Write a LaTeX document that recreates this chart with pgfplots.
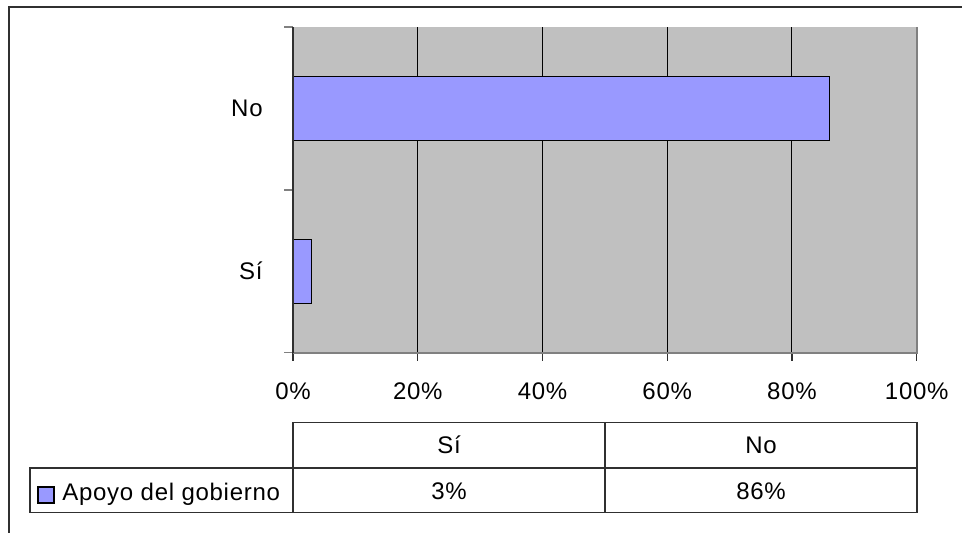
\documentclass[border=0pt]{standalone}
\usepackage{pgfplots}
\usepackage{pgfplotstable}
\pgfplotsset{compat=1.18}
\usepackage{fontspec}
\setmainfont[LetterSpace=3]{Liberation Sans}

\definecolor{barfill}{HTML}{9999FF}
\definecolor{plotbg}{HTML}{C0C0C0}
\definecolor{edge}{HTML}{808080}
\definecolor{rule}{HTML}{303030}

% Apoyo del gobierno: 0 = Sí, 1 = No (percent)
\pgfplotstableread{
pos value
0 3
1 86
}\apoyo

\pgfplotstablegetelem{0}{value}\of\apoyo \let\valsi\pgfplotsretval
\pgfplotstablegetelem{1}{value}\of\apoyo \let\valno\pgfplotsretval

\begin{document}
\begin{tikzpicture}[font=\fontsize{12}{14}\selectfont]
% page frame and drawing grid: 1 unit = 0.5pt, y downwards from the top
\begin{scope}[x=0.5pt,y=-0.5pt,yshift=266.5pt]
  \path[use as bounding box] (0,0) rectangle (962,533);
  \draw[line width=1pt, rule] (9,533) -- (9,7) -- (962,7);
\end{scope}

\begin{axis}[
  at={(146.5pt,90.15pt)}, anchor=south west,
  scale only axis, width=311.85pt, height=162.85pt,
  xbar, bar width=32pt,
  xmin=0, xmax=100, ymin=-0.5, ymax=1.5,
  axis background/.style={fill=plotbg},
  axis line style={draw=none},
  clip=false,
  tick align=outside,
  xtick pos=bottom, ytick pos=left,
  major tick length=4pt,
  xtick={0,20,...,100},
  xticklabel={\pgfmathprintnumber[assume math mode=true]{\tick}\%},
  xtick style={rule, line width=0.6pt},
  xticklabel style={anchor=center, inner sep=0pt, yshift=-15.5pt},
  xmajorgrids,
  major grid style={black, line width=0.5pt},
  ytick={0,1},
  yticklabels={Sí,No},
  ytick style={draw=none},
  yticklabel style={anchor=base east, inner sep=0pt, xshift=-11pt, yshift=-4.2pt},
  extra y ticks={-0.5,0.5,1.5},
  extra y tick labels={},
  extra y tick style={ytick style={draw=edge, line width=0.8pt}, major tick length=4.5pt},
]
\addplot[draw=black, line width=0.75pt, fill=barfill] table[x=value, y=pos] {\apoyo};
\draw[edge, line width=1pt] (rel axis cs:0,0) -- (rel axis cs:1,0) -- (rel axis cs:1,1);
\draw[rule, line width=0.6pt] (rel axis cs:0,0) -- (rel axis cs:0,1);
\end{axis}

% data table under the chart
\begin{scope}[x=0.5pt,y=-0.5pt,yshift=266.5pt]
  \draw[rule, line width=0.6pt]
    (293,422.7) rectangle (917,512.7)
    (30,468) rectangle (917,512.7)
    (605,422.7) -- (605,512.7);
  \node[anchor=base, inner sep=0pt] at (449,453.5) {Sí};
  \node[anchor=base, inner sep=0pt] at (761,453.5) {No};
  \node[anchor=base, inner sep=0pt] at (449,499.5) {\valsi\%};
  \node[anchor=base, inner sep=0pt] at (761,499.5) {\valno\%};
  \draw[black, line width=0.75pt, fill=barfill] (38,487) rectangle (54,503);
  \node[anchor=base west, inner sep=0pt] at (62,500.5) {Apoyo del gobierno};
\end{scope}
\end{tikzpicture}
\end{document}
